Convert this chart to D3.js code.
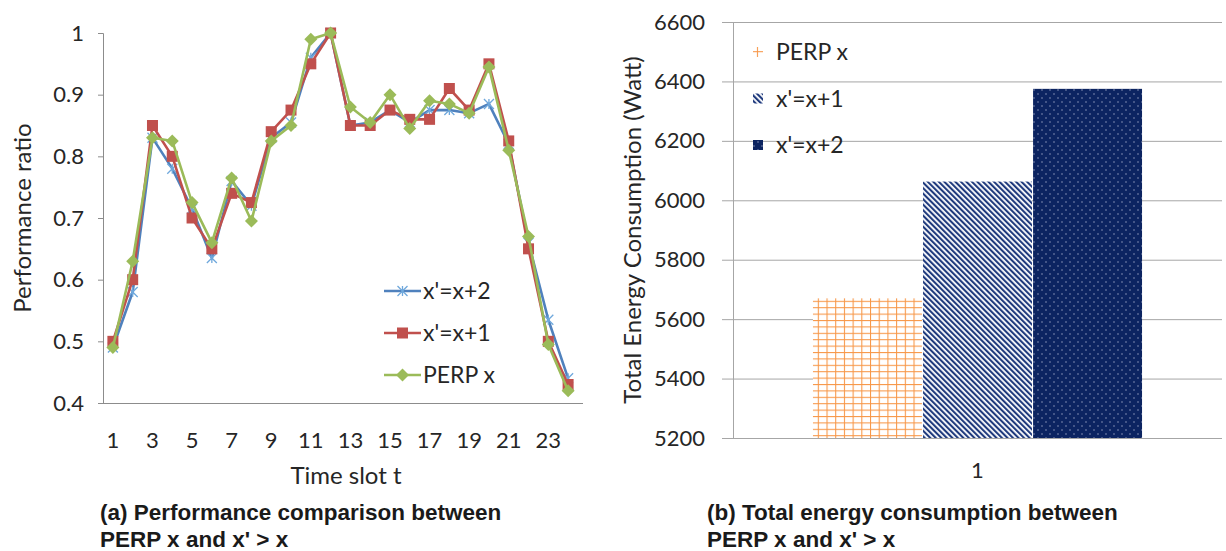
<!DOCTYPE html>
<html>
<head>
<meta charset="utf-8">
<script src="https://cdn.jsdelivr.net/npm/d3@7"></script>
<style>
  html, body { margin: 0; padding: 0; background: #fff; }
  svg { display: block; }
  text { font-family: Lato, "Open Sans", sans-serif; fill: #262626; }
  .cap { font-family: "Liberation Sans", Arial, sans-serif; font-weight: bold; fill: #1a1a1a; }
</style>
</head>
<body>
<svg id="chart" width="1226" height="551"></svg>
<script>
// ---- (a) performance ratio per time slot ----
const slots = d3.range(1, 25);
const slotLabels = [1, 3, 5, 7, 9, 11, 13, 15, 17, 19, 21, 23];
const perfTicks = [0.4, 0.5, 0.6, 0.7, 0.8, 0.9, 1];
const xPlus2 = [0.49, 0.58, 0.83, 0.78, 0.715, 0.635, 0.76, 0.72, 0.83, 0.855, 0.96, 1.00,
                0.85, 0.855, 0.875, 0.855, 0.875, 0.875, 0.87, 0.885, 0.82, 0.66, 0.535, 0.44];
const xPlus1 = [0.50, 0.60, 0.85, 0.80, 0.70, 0.65, 0.74, 0.725, 0.84, 0.875, 0.95, 1.00,
                0.85, 0.85, 0.875, 0.86, 0.86, 0.91, 0.875, 0.95, 0.825, 0.65, 0.50, 0.43];
const perpX  = [0.49, 0.63, 0.83, 0.825, 0.725, 0.66, 0.765, 0.695, 0.825, 0.85, 0.99, 1.00,
                0.88, 0.855, 0.90, 0.845, 0.89, 0.885, 0.87, 0.945, 0.81, 0.67, 0.495, 0.42];
const lineSeries = ["x'=x+2", "x'=x+1", "PERP x"];
const lineColors = ["#4F81BD", "#C0504D", "#9BBB59"];

// ---- (b) total energy consumption ----
const energyCategory = ["1"];
const energySeries = ["PERP x", "x'=x+1", "x'=x+2"];
const energyValues = [5670, 6063, 6375];
const energyTicks = [5200, 5400, 5600, 5800, 6000, 6200, 6400, 6600];

const svg = d3.select("#chart");
const axisGray = "#8c8c8c";
const tickFont = "22px";
const labelFont = "23px";
const titleFont = "24px";

// fill patterns for the bars
const defs = svg.append("defs");
const grid = defs.append("pattern").attr("id", "pGrid")
  .attr("patternUnits", "userSpaceOnUse").attr("width", 8.7).attr("height", 6.4);
grid.append("rect").attr("width", 8.7).attr("height", 6.4).attr("fill", "#fff");
grid.append("line").attr("x1", 0.5).attr("x2", 0.5).attr("y1", 0).attr("y2", 6.4)
  .attr("stroke", "#F79646").attr("stroke-width", 1.1);
grid.append("line").attr("x1", 0).attr("x2", 8.7).attr("y1", 0.5).attr("y2", 0.5)
  .attr("stroke", "#F79646").attr("stroke-width", 1.1);

const stripes = defs.append("pattern").attr("id", "pStripe")
  .attr("patternUnits", "userSpaceOnUse").attr("width", 3.9).attr("height", 3.9)
  .attr("patternTransform", "rotate(-45)");
stripes.append("rect").attr("width", 3.9).attr("height", 3.9).attr("fill", "#fff");
stripes.append("rect").attr("width", 2.1).attr("height", 3.9).attr("fill", "#1F3A7D");

const dots = defs.append("pattern").attr("id", "pDots")
  .attr("patternUnits", "userSpaceOnUse").attr("width", 8).attr("height", 8);
dots.append("rect").attr("width", 8).attr("height", 8).attr("fill", "#0C2461");
dots.append("circle").attr("cx", 2).attr("cy", 2).attr("r", 0.8).attr("fill", "#8894b8");
dots.append("circle").attr("cx", 6).attr("cy", 6).attr("r", 0.8).attr("fill", "#8894b8");

const barFills = ["url(#pGrid)", "url(#pStripe)", "url(#pDots)"];

// ================= left chart =================
const x = d3.scaleBand().domain(slots).range([103, 578]).padding(0);
const y = d3.scaleLinear().domain([0.4, 1]).range([403, 33]);
const cx = d => x(d) + x.bandwidth() / 2;

const yAx = svg.append("g").attr("transform", "translate(103,0)")
  .call(d3.axisLeft(y).tickValues(perfTicks).tickSize(5).tickPadding(14)
    .tickFormat(d => d === 1 ? "1" : d3.format(".1f")(d)));
yAx.select(".domain").attr("stroke", axisGray);
yAx.selectAll(".tick line").attr("stroke", axisGray);
yAx.selectAll("text").style("font-size", tickFont).attr("fill", "#262626");

const xAx = svg.append("g").attr("transform", "translate(0,403)")
  .call(d3.axisBottom(x).tickValues(slotLabels).tickSize(0).tickPadding(29));
xAx.select(".domain").attr("stroke", axisGray).attr("d", "M103,0.5H583");
xAx.selectAll("text").style("font-size", tickFont).attr("fill", "#262626");

svg.append("text").attr("transform", "translate(31,218) rotate(-90)")
  .attr("text-anchor", "middle").style("font-size", titleFont).text("Performance ratio");
svg.append("text").attr("x", 346).attr("y", 484)
  .attr("text-anchor", "middle").style("font-size", titleFont).text("Time slot t");

const lineGen = d3.line().x((d, i) => cx(slots[i])).y(d => y(d));
const allLines = [xPlus2, xPlus1, perpX];

function drawMarker(g, k, px, py) {
  const c = lineColors[k];
  if (k === 0) {
    const s = 5;
    g.append("path")
      .attr("d", `M${px - s},${py - s}L${px + s},${py + s}M${px - s},${py + s}L${px + s},${py - s}M${px},${py - s}L${px},${py + s}`)
      .attr("stroke", "#6fa8dc").attr("stroke-width", 1.3).attr("fill", "none");
  } else if (k === 1) {
    g.append("rect").attr("x", px - 5.5).attr("y", py - 5.5).attr("width", 11).attr("height", 11)
      .attr("fill", c);
  } else {
    const s = 6.5;
    g.append("path").attr("d", `M${px},${py - s}L${px + s},${py}L${px},${py + s}L${px - s},${py}Z`)
      .attr("fill", c);
  }
}

allLines.forEach((vals, k) => {
  const g = svg.append("g");
  g.append("path").datum(vals).attr("d", lineGen)
    .attr("fill", "none").attr("stroke", lineColors[k]).attr("stroke-width", 2.6)
    .attr("stroke-linejoin", "round");
  vals.forEach((v, i) => drawMarker(g, k, cx(slots[i]), y(v)));
});

// legend of the line chart
lineSeries.forEach((name, k) => {
  const ly = 291 + k * 42;
  const g = svg.append("g");
  g.append("line").attr("x1", 384).attr("x2", 421).attr("y1", ly).attr("y2", ly)
    .attr("stroke", lineColors[k]).attr("stroke-width", 2.6);
  drawMarker(g, k, 402.5, ly);
  g.append("text").attr("x", 423).attr("y", ly + 8).style("font-size", labelFont).text(name);
});

// ================= right chart =================
const xc = d3.scaleBand().domain(energyCategory).range([733, 1222])
  .paddingInner(0).paddingOuter(0.243);
const xs = d3.scaleBand().domain(energySeries).range([0, xc.bandwidth()]).paddingInner(0.01);
const ye = d3.scaleLinear().domain([5200, 6600]).range([438, 22]);

svg.append("g").selectAll("line").data(energyTicks).join("line")
  .attr("x1", 722).attr("x2", 1222).attr("y1", d => ye(d) + 0.5).attr("y2", d => ye(d) + 0.5)
  .attr("stroke", "#a6a6a6").attr("stroke-width", 1);
svg.append("line").attr("x1", 733.5).attr("x2", 733.5).attr("y1", ye(6600)).attr("y2", ye(5200))
  .attr("stroke", "#a6a6a6");

const yeAx = svg.append("g").attr("transform", "translate(722,0)")
  .call(d3.axisLeft(ye).tickValues(energyTicks).tickSize(0).tickPadding(17).tickFormat(d3.format("d")));
yeAx.select(".domain").remove();
yeAx.selectAll("text").style("font-size", tickFont).attr("fill", "#262626");

svg.append("g").selectAll("rect").data(energyValues).join("rect")
  .attr("x", (d, i) => xc("1") + xs(energySeries[i]))
  .attr("width", xs.bandwidth())
  .attr("y", d => ye(d))
  .attr("height", d => ye(5200) - ye(d))
  .attr("fill", (d, i) => barFills[i]);

svg.append("text").attr("x", xc("1") + xc.bandwidth() / 2).attr("y", 478)
  .attr("text-anchor", "middle").style("font-size", tickFont).text(energyCategory[0]);

svg.append("text").attr("transform", "translate(641,230) rotate(-90)")
  .attr("text-anchor", "middle").style("font-size", titleFont).text("Total Energy Consumption (Watt)");

// legend of the bar chart
energySeries.forEach((name, k) => {
  const ly = 52 + k * 46.5;
  svg.append("rect").attr("x", 753).attr("y", ly - 5).attr("width", 10).attr("height", 10)
    .attr("fill", barFills[k]);
  svg.append("text").attr("x", 776).attr("y", ly + 8).style("font-size", labelFont).text(name);
});

// sub-figure captions
const caps = [
  { x: 100, lines: ["(a) Performance comparison between", "PERP x and x' > x"] },
  { x: 707, lines: ["(b) Total energy consumption between", "PERP x and x' > x"] }
];
caps.forEach(c => {
  c.lines.forEach((t, i) => {
    svg.append("text").attr("class", "cap").attr("x", c.x).attr("y", 520 + i * 27)
      .style("font-size", "22.5px").text(t);
  });
});
</script>
</body>
</html>
